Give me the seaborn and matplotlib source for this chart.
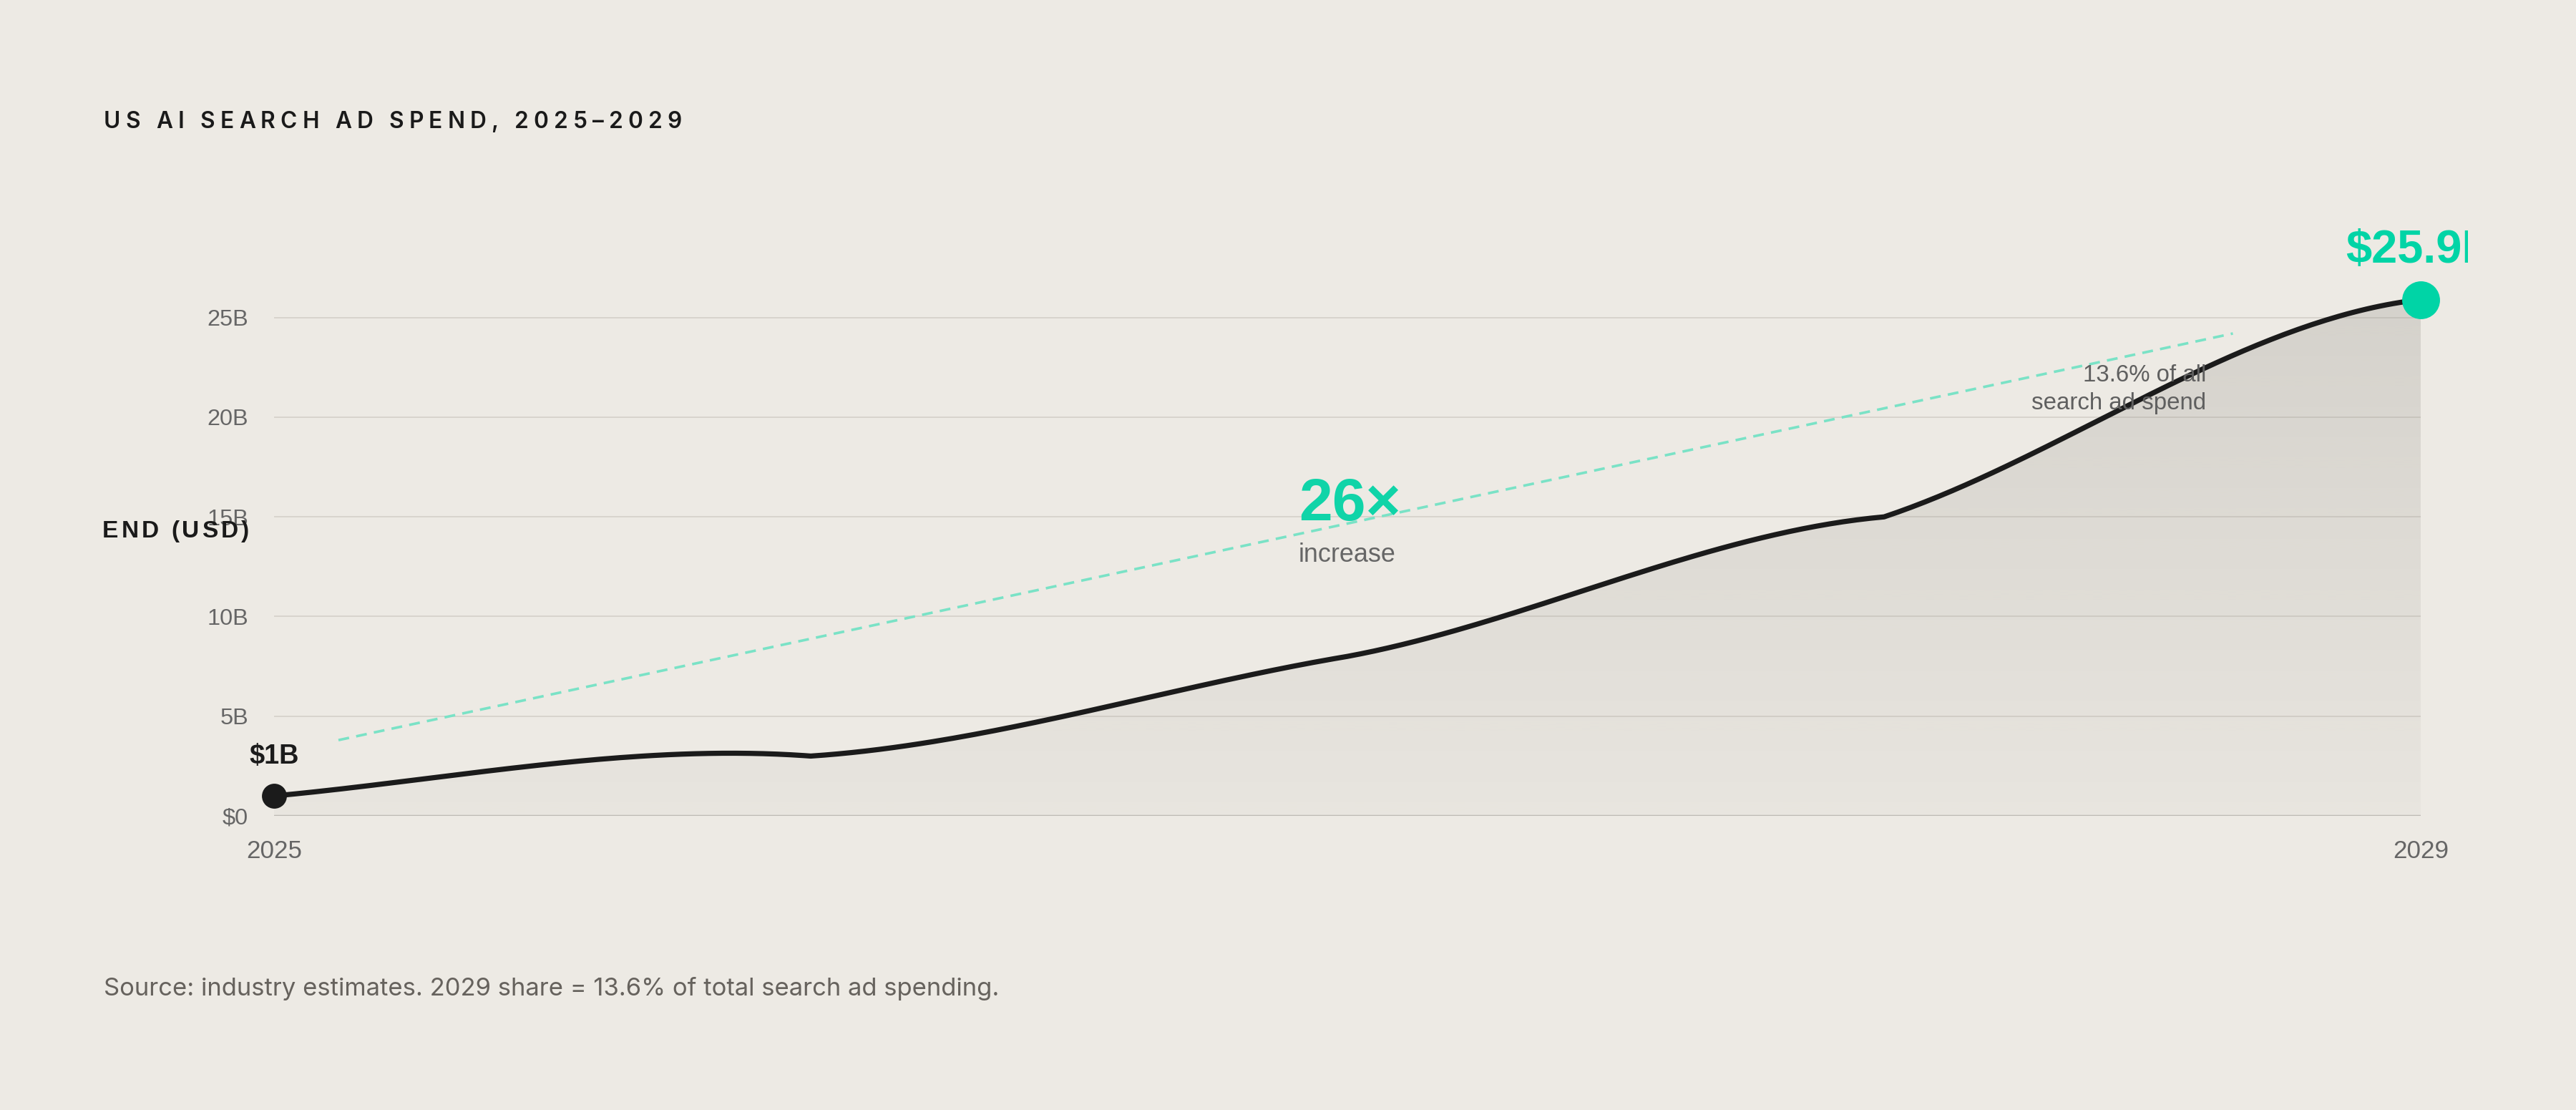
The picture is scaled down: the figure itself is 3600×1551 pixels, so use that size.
import numpy as np
import pandas as pd
import matplotlib
matplotlib.use("Agg")
import matplotlib.pyplot as plt
import seaborn as sns
from matplotlib.patches import Polygon, Rectangle
from matplotlib.font_manager import FontProperties, findfont
from matplotlib.ft2font import FT2Font

# data
years = [2025, 2026, 2027, 2028, 2029]
spend_b = [1.0, 3.0, 8.0, 15.0, 25.9]
y_ticks = [0, 5, 10, 15, 20, 25]
y_tick_labels = ["$0", "5B", "10B", "15B", "20B", "25B"]
x_ticks = [2025, 2029]
x_tick_labels = ["2025", "2029"]
# slopes (B per year) out of / into each knot
seg_slopes = [(2.5, -2.0), (1.8, 4.5), (5.0, 2.4), (9.0, 3.0)]
trend_x = [2025.12, 2028.65]
trend_y = [3.8, 24.2]

W, H = 3600, 1551
BG = "#edeae4"
TEAL = "#00d4a6"
INK = "#1b1b1b"
GREY = "#666666"


def px(v):
    # pixel size -> points (dpi 100)
    return v * 0.72


def hermite_curve(xs, ys, slopes, n=80):
    cx, cy = [], []
    for i in range(len(xs) - 1):
        h = xs[i + 1] - xs[i]
        m0, m1 = slopes[i]
        t = np.linspace(0, 1, n)
        h00 = 2 * t**3 - 3 * t**2 + 1
        h10 = t**3 - 2 * t**2 + t
        h01 = -2 * t**3 + 3 * t**2
        h11 = t**3 - t**2
        cx.extend(xs[i] + t * h)
        cy.extend(h00 * ys[i] + h10 * h * m0 + h01 * ys[i + 1] + h11 * h * m1)
    return np.array(cx), np.array(cy)


def spaced_text(x, y, s, track, family, size, weight, color):
    # letter-spaced text, x/y in figure pixels (from top-left)
    fp = FontProperties(family=family, weight=weight, size=size)
    font = FT2Font(findfont(fp))
    font.set_size(size, 100)
    for ch in s:
        fig.text(x / W, 1 - y / H, ch, fontproperties=fp, color=color,
                 ha="left", va="baseline")
        g = font.load_char(ord(ch))
        x += g.linearHoriAdvance / 65536 + track


sns.set_theme(style="white")
plt.rcParams["font.family"] = ["Liberation Sans", "DejaVu Sans"]

fig = plt.figure(figsize=(W / 100, H / 100), dpi=100, facecolor=BG)
ax = fig.add_axes([383 / W, 1 - 1140 / H, 3000 / W, 752 / H])
ax.set_facecolor(BG)
ax.set_xlim(2025, 2029)
ax.set_ylim(0, 27)

cx, cy = hermite_curve(years, spend_b, seg_slopes)
curve = pd.DataFrame({"year": cx, "spend": cy})

# gradient area under the curve
grad = np.zeros((256, 1, 4))
grad[..., 0] = 140 / 255
grad[..., 1] = 137 / 255
grad[..., 2] = 130 / 255
grad[:, 0, 3] = np.linspace(0.05, 0.25, 256)
im = ax.imshow(grad, origin="lower", extent=[2025, 2029, 0, 26],
               aspect="auto", zorder=1, interpolation="bilinear")
verts = np.column_stack([np.r_[cx, cx[::-1]], np.r_[cy, np.zeros_like(cy)]])
area = Polygon(verts, closed=True, fc="none", ec="none", transform=ax.transData)
ax.add_patch(area)
im.set_clip_path(area)

# grid + baseline
ax.set_yticks(y_ticks)
ax.set_yticklabels(y_tick_labels)
ax.set_xticks(x_ticks)
ax.set_xticklabels(x_tick_labels)
ax.yaxis.grid(True, color="#d8d4cd", lw=1.4, zorder=0)
ax.xaxis.grid(False)
ax.set_axisbelow(True)
ax.axhline(0, color="#bdbab4", lw=2.5, zorder=2)
sns.despine(ax=ax, left=True, bottom=True)
ax.tick_params(axis="y", length=0, pad=px(36), labelsize=px(32.5), labelcolor=GREY)
ax.tick_params(axis="x", length=0, pad=px(33), labelsize=px(35), labelcolor=GREY)

# trend dashed line
ax.plot(trend_x, trend_y, color="#7ae2c6", lw=2.6, dashes=(4.2, 2.8), zorder=3)

# main line and end points
sns.lineplot(data=curve, x="year", y="spend", sort=False, estimator=None,
             color=INK, lw=5.2, ax=ax, zorder=4)
ax.set_xlabel("")
ax.set_ylabel("")
sns.scatterplot(x=[years[0]], y=[spend_b[0]], s=630, color=INK, linewidth=0,
                ax=ax, zorder=5, clip_on=False)
sns.scatterplot(x=[years[-1]], y=[spend_b[-1]], s=1450, color=TEAL, linewidth=0,
                ax=ax, zorder=5, clip_on=False)

# annotations
ax.text(years[0], 2.62, "$1B", ha="center", va="baseline", fontsize=px(38),
        fontweight="bold", color=INK)
end_lbl = ax.text(years[-1], 27.77, "$25.9B", ha="center", va="baseline",
                  fontsize=px(65), fontweight="bold", color=TEAL, clip_on=True)
end_lbl.set_clip_path(Rectangle((0, 0), 3449 / W, 1, transform=fig.transFigure))
ax.text(2026.909, 14.83, "26×", ha="left", va="baseline", fontsize=px(84),
        fontweight="bold", color="#10d4a8")
ax.text(2026.909, 12.75, "increase", ha="left", va="baseline", fontsize=px(36),
        color=GREY)
ax.text(2028.6, 21.80, "13.6% of all", ha="right", va="baseline",
        fontsize=px(33), color="#5f5f5f", zorder=6)
ax.text(2028.6, 20.40, "search ad spend", ha="right", va="baseline",
        fontsize=px(33), color="#5f5f5f", zorder=6)

# title, axis label, source
spaced_text(145, 179, "US AI SEARCH AD SPEND, 2025–2029", 7.2, "Inter",
            px(31.6), "semibold", "#1a1a1a")
spaced_text(143, 751, "END (USD)", 4.0, "Liberation Sans", px(33.5), "bold",
            "#1a1a1a")
fig.text(145 / W, 1 - 1391 / H,
         "Source: industry estimates. 2029 share = 13.6% of total search ad spending.",
         family=["Inter", "DejaVu Sans"], fontsize=px(34.6), color="#66625d",
         ha="left", va="baseline")

fig.savefig("out.png", dpi=100, facecolor=BG)
